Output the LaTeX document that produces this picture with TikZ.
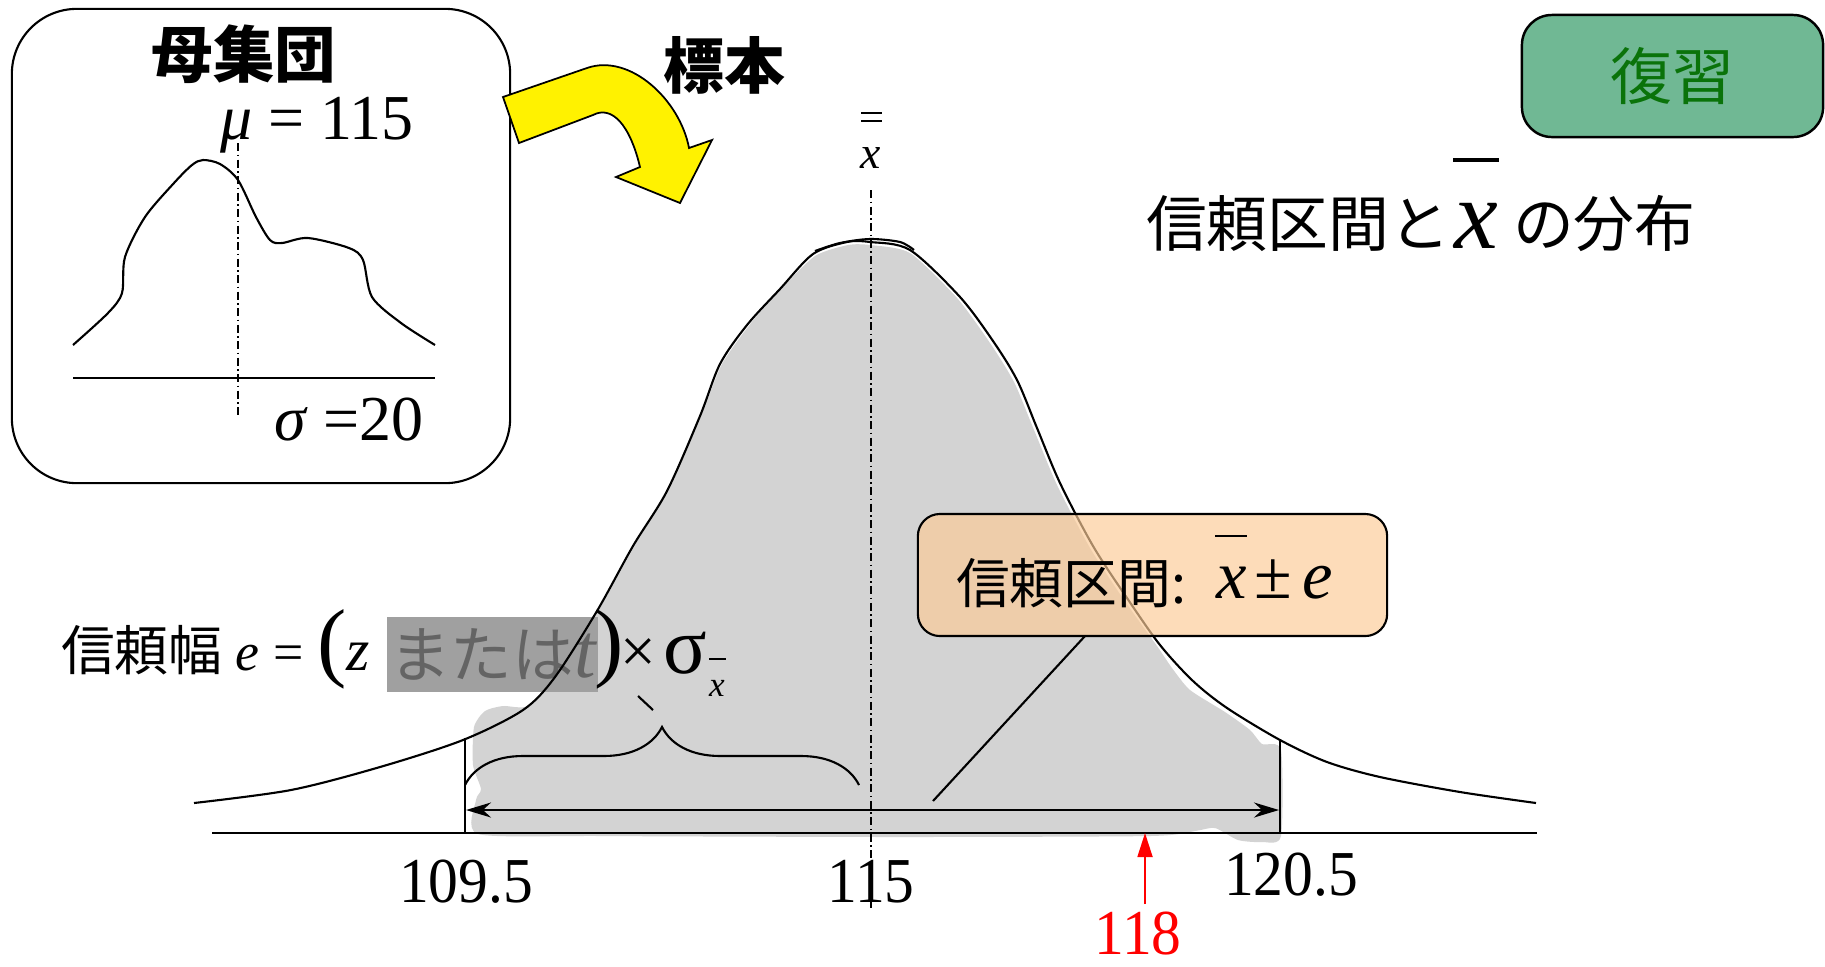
\documentclass[tikz,border=0pt]{standalone}
\usepackage{graphicx}
\usepackage{fontspec}
\setmainfont{Liberation Serif}
\newfontfamily\jp{Noto Sans CJK JP}
\usepackage{tikz}
\usetikzlibrary{arrows.meta}
\usetikzlibrary{decorations.pathreplacing}
\newcommand{\fsz}[1]{\fontsize{#1}{#1}\selectfont}
\definecolor{blob}{RGB}{211,211,211}
\definecolor{hlgray}{RGB}{160,160,160}
\definecolor{hltext}{RGB}{100,100,100}
\definecolor{peach}{RGB}{252,203,151}
\definecolor{revfill}{RGB}{112,184,148}
\definecolor{revtext}{RGB}{10,115,10}

\begin{document}
\begin{tikzpicture}[x=0.01cm,y=-0.01cm,line width=0.6pt,
	cdash/.style={line width=0.45pt,dash pattern=on 0.8mm off 0.35mm on 0.15mm off 0.35mm},
	txt/.style={inner sep=0pt},
	num/.style={inner sep=0pt,anchor=base,font=\fsz{18.2}}]
	\useasboundingbox (0,0) rectangle (1825,966);

	\begin{scope}[every node/.style={txt}]
		\node[draw,rounded corners=0.65cm,minimum width=4.98cm,minimum height=4.74cm] (popbox) at (261,246) {};
		\node[font=\jp\bfseries\fsz{17.5}] (pop) at (244,54) {母集団};
		\node[anchor=base west,font=\fsz{18.2}] (mu) at (219,139) {\textit{μ} = 115};
		\node[anchor=base west,font=\fsz{18.2}] (sg) at (273,440) {\textit{σ} =20};
	\end{scope}
	\draw[cdash] (238,143) -- (238,417);
	\draw plot[smooth] coordinates {(73,345) (108,313) (122,293) (125,257) (145,217) (174,183) (192,165) (203,160) (220,164) (238,180) (256,217) (270,240) (282,243) (308,238) (349,248) (363,260) (372,297) (401,323) (435,345)};
	\draw (73,378) -- (435,378);

	\draw[fill=yellow,line width=0.5pt] (503,97) -- (587,68) .. controls (630,53) and (680,100) .. (689,148) -- (712,140) -- (680,203) -- (616,177) -- (640,167) .. controls (630,125) and (612,105) .. (593,115) -- (519,143) -- cycle;
	\node[txt,font=\jp\bfseries\fsz{17.3}] (smp) at (724,65) {標本};

	\fill[blob] plot[smooth cycle,tension=0.4] coordinates {(478,834) (476,800) (481,789) (473,765) (474,727) (485,711) (503,706) (528,706) (558,676) (599,610) (635,545) (669,489) (701,416) (722,364) (751,323) (780,290) (815,256) (848,245) (870,245) (910,253) (957,298) (990,343) (1014,382) (1034,430) (1057,485) (1090,548) (1124,600) (1157,646) (1172,668) (1190,690) (1225,712) (1250,730) (1262,744) (1281,750) (1281,836) (1262,842) (1238,840) (1215,828) (1195,831) (1150,836) (900,837) (600,836)};

	\node[fill=hlgray,inner sep=0pt,minimum width=2.11cm,minimum height=0.75cm,font=\jp\fsz{17.5},text=hltext] (hl) at (492.5,654.5) {または{\rmfamily\itshape\fsz{22}t}};

	\draw plot[smooth] coordinates {(194,803) (291,790) (380,767) (463,740) (523,710) (555,677) (597,611) (633,546) (667,491) (700,416) (720,364) (747,325) (780,289) (813,254) (847,242) (870,242) (910,250) (960,297) (993,341) (1017,380) (1037,428) (1060,483) (1093,546) (1127,598) (1160,645) (1193,681) (1227,708) (1280,740) (1327,762) (1380,777) (1460,792) (1536,803)};
	\draw plot[smooth] coordinates {(815,251) (840,243) (870,239) (900,242) (914,250)};

	\coordinate (axL) at (212,833);
	\coordinate (axR) at (1537,833);
	\draw[line width=0.8pt] (axL) -- (axR);
	\coordinate (ctop) at (871,190);
	\coordinate (cbot) at (871,908);
	\draw[cdash] (ctop) -- (cbot);
	\node[txt,anchor=base,font=\itshape\fsz{13}] (xx) at (871,168) {x};
	\draw[line width=0.4pt] (861,113) -- (882,113);
	\draw[line width=0.4pt] (861,121) -- (882,121);

	\coordinate (lb) at (465,833);
	\coordinate (lt) at (465,738);
	\coordinate (rb) at (1280,833);
	\coordinate (rt) at (1280,740);
	\draw (lb) -- (lt);
	\draw (rb) -- (rt);
	\coordinate (al) at (466,810);
	\coordinate (ar) at (1279,810);
	\draw[{Stealth[length=2.5mm,width=1.5mm]}-{Stealth[length=2.5mm,width=1.5mm]}] (al) -- (ar);
	\draw[decorate,decoration={brace,amplitude=5.8mm}] (465,785) -- (859,785);
	\draw (638,696) -- (653,710);

	\begin{scope}[every node/.style={txt}]
		\node[anchor=base west,font=\fsz{15.3}] (wid) at (60,670) {{\jp 信頼幅} \textit{e} = {\fsz{25}(}\textit{\fsz{17}z}};
		\node[anchor=base,font=\fsz{25}] (rp) at (609,670) {)};
		\node[anchor=base,font=\fsz{18}] (tm) at (638,672) {×};
		\node[anchor=base,font=\fsz{23}] (sgm) at (685,673) {σ};
		\node[anchor=base,font=\itshape\fsz{10}] (sx) at (717,696) {x};
	\end{scope}
	\draw[line width=0.4pt] (709,659) -- (726,659);

	\node[draw,fill=peach,fill opacity=0.67,rounded corners=0.22cm,minimum width=4.69cm,minimum height=1.22cm] (ci) at (1152.5,575) {};
	\begin{scope}[every node/.style={txt}]
		\node[anchor=base west,font=\jp\fsz{15.3}] (cit) at (955,603) {信頼区間:};
		\node[anchor=base,font=\itshape\fsz{19.5}] (cix) at (1232,598) {x};
		\node[anchor=base,font=\fsz{19.5}] (cipm) at (1273,598) {±};
		\node[anchor=base,font=\itshape\fsz{19.5}] (cie) at (1318,598) {e};
	\end{scope}
	\draw[line width=0.5pt] (1215,536) -- (1247,536);
	\coordinate (cip) at (1085,636);
	\coordinate (ciq) at (933,801);
	\draw (cip) -- (ciq);

	\node[num] (n1) at (466,902) {\scalebox{0.93}[1]{109.5}};
	\node[num] (n2) at (871,902) {\scalebox{0.93}[1]{115}};
	\node[num] (n3) at (1291,895) {\scalebox{0.93}[1]{120.5}};
	\node[num,text=red] (n4) at (1138,954) {\scalebox{0.93}[1]{118}};
	\coordinate (r0) at (1145,904);
	\coordinate (r1) at (1145,833);
	\draw[red,line width=0.5pt,-{Triangle[length=2.4mm,width=1.5mm]}] (r0) -- (r1);

	\begin{scope}[every node/.style={txt}]
		\node[anchor=base west,font=\jp\fsz{17.3}] (t1) at (1145,246) {信頼区間と};
		\node[anchor=base,font=\itshape\fsz{28}] (tx) at (1476,248) {x};
		\node[anchor=base west,font=\jp\fsz{17.3}] (t2) at (1512,246) {の分布};
	\end{scope}
	\draw[line width=1.1pt] (1453,160) -- (1499,160);

	\node[draw,fill=revfill,rounded corners=0.3cm,minimum width=3.01cm,minimum height=1.22cm,font=\jp\fsz{17.6},text=revtext,line width=0.7pt] (rev) at (1672.5,76) {復習};
\end{tikzpicture}
\end{document}
